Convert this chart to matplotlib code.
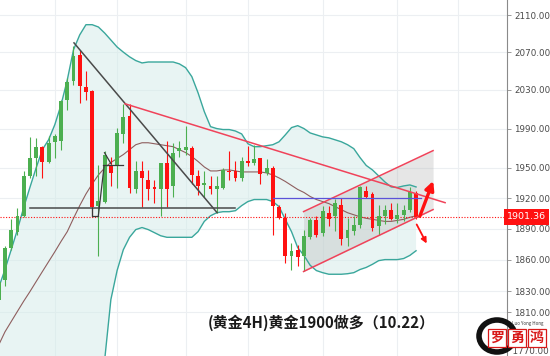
import numpy as np
import matplotlib
matplotlib.use("Agg")
import matplotlib.pyplot as plt
from matplotlib.patches import Ellipse
from matplotlib.ticker import FixedLocator, FuncFormatter, NullLocator

plt.rcParams["font.family"] = ["Noto Sans CJK SC", "DejaVu Sans"]

# 4H candles, index -1 .. 66
opens = [1822, 1841, 1871.5, 1887, 1902, 1941.5, 1960.5, 1971, 1956, 1976.5,
         1977, 2020, 2039, 2067, 2033.5, 2028.5, 1912, 1916.5, 1953, 1951.5,
         1984.5, 2003, 1929, 1947, 1938, 1930.5, 1929, 1954.5, 1931.5, 1967,
         1968, 1970, 1942, 1932.5, 1931.5, 1928.5, 1930, 1946.5, 1946.5, 1940,
         1957.5, 1954.5, 1960, 1945, 1950, 1911, 1900.5, 1863, 1869.5, 1863,
         1882, 1898, 1886, 1905.5, 1902.5, 1913.5, 1881, 1887.5, 1893.5, 1926.5,
         1923.5, 1892.5, 1902, 1908.5, 1899, 1903.5, 1908, 1925]
highs = [1843, 1873.5, 1899, 1910.5, 1946.5, 1981, 1980.5, 1972.5, 1982, 1984.5,
         2020, 2042.5, 2076.5, 2072.5, 2049.5, 2030, 1953, 1967, 1961.5, 1990.5,
         2015.5, 2015.5, 1956.5, 1956.5, 1948, 1938, 1954.5, 1977, 1975.5, 1977,
         1993, 1972, 1948, 1946.5, 1941.5, 1941.5, 1950, 1967, 1956.5, 1961,
         1972, 1973.5, 1960.5, 1959, 1951.5, 1913.5, 1905.5, 1876, 1874, 1889,
         1900.5, 1902, 1912, 1912, 1919, 1920, 1900.5, 1902, 1931.5, 1931.5,
         1925.5, 1913.5, 1913.5, 1915, 1915.5, 1913.5, 1931, 1926.5]
lows = [1817, 1834.5, 1869.5, 1884, 1901, 1940, 1941.5, 1940, 1955, 1960,
        1968.5, 2009.5, 2035.5, 2016.5, 2020, 1901, 1863, 1915.5, 1931.5, 1930,
        1975.5, 1925, 1925, 1911, 1918.5, 1915.5, 1902.5, 1911, 1921.5, 1961.5,
        1963.5, 1933.5, 1922.5, 1921.5, 1923.5, 1905.5, 1928.5, 1938, 1936.5, 1936.5,
        1951.5, 1953, 1933.5, 1943, 1884, 1899, 1857, 1850.5, 1853.5, 1849,
        1879.5, 1882, 1882.5, 1892.5, 1887.5, 1874.5, 1873, 1884, 1891, 1920,
        1887.5, 1884, 1894, 1898, 1895.5, 1897, 1906.5, 1899.5]
closes = [1839, 1871.5, 1889, 1902, 1941.5, 1960.5, 1971, 1956, 1975.5, 1982,
          2018.5, 2038, 2065.5, 2034.5, 2027.5, 1911, 1917.5, 1963.5, 1945, 1985.5,
          2002, 1929.5, 1946.5, 1940, 1929, 1928.5, 1954.5, 1929, 1965, 1970,
          1971, 1943, 1931.5, 1934.5, 1928.5, 1931.5, 1947.5, 1945.5, 1940, 1956.5,
          1954.5, 1959, 1944, 1950, 1912.5, 1900.5, 1863, 1868, 1862.5, 1882.5,
          1898, 1884, 1907, 1899, 1915, 1879.5, 1889, 1893.5, 1931, 1921.5,
          1890.5, 1902, 1908.5, 1899, 1903.5, 1908, 1925.5, 1901.36]

# Bollinger bands
bb_upper = [1833.5, 1850.5, 1869.5, 1889, 1910.5, 1930.5, 1950, 1968.5, 1978.5, 1994,
            2014.5, 2040.5, 2072.5, 2088.5, 2099.5, 2099.5, 2097, 2090.5, 2083, 2075.5,
            2070, 2065, 2061, 2058.5, 2059.5, 2059.5, 2059.5, 2059.5, 2059.5, 2057.5,
            2053.5, 2044, 2027, 2007.5, 1992, 1990, 1989, 1989, 1987.5, 1984.5,
            1974.5, 1971.5, 1971.5, 1972.5, 1973.5, 1976.5, 1983.5, 1991, 1993, 1990,
            1985.5, 1983.5, 1981.5, 1980.5, 1978.5, 1976.5, 1973.5, 1969.5, 1960.5, 1952.5,
            1948, 1942, 1936, 1931, 1930.5, 1932, 1933, 1931]
bb_mid = [1780, 1792, 1801.5, 1811, 1820.5, 1829.5, 1839, 1848.5, 1858, 1867.5,
          1877.5, 1887, 1900, 1912.5, 1924, 1934, 1943, 1950, 1955.5, 1959.5,
          1963.5, 1968.5, 1973.5, 1975.5, 1975.5, 1974.5, 1973.5, 1972.5, 1971.5, 1968.5,
          1965.5, 1961.5, 1956.5, 1951, 1947, 1947, 1948, 1948, 1947, 1946,
          1946, 1946, 1946, 1945, 1943, 1940, 1936.5, 1932.5, 1928.5, 1925.5,
          1921.5, 1918.5, 1916.5, 1914.5, 1911.5, 1908.5, 1905.5, 1903.5, 1901.5, 1900,
          1899, 1898, 1897, 1897, 1898, 1899, 1901, 1902.5]
bb_lower = [1730, 1725, 1720, 1712, 1704, 1697, 1690, 1684, 1680, 1676,
            1672, 1670, 1668, 1668, 1680, 1705, 1735, 1766, 1822, 1849.5,
            1869.5, 1881.5, 1889, 1891, 1889, 1886, 1883, 1881.5, 1881.5, 1881.5,
            1881.5, 1881.5, 1887, 1897, 1902.5, 1905.5, 1906.5, 1906.5, 1907.5, 1912.5,
            1916.5, 1918.5, 1918.5, 1918.5, 1916.5, 1911.5, 1899, 1887, 1871.5, 1864,
            1854.5, 1849.5, 1847.5, 1846, 1846, 1846, 1846.5, 1847.5, 1850.5, 1852.5,
            1855.5, 1859, 1860, 1860, 1860, 1861, 1864, 1868.5]

last_price = 1901.36
price_ticks = [1810, 1830, 1860, 1890, 1920, 1950, 1990, 2030, 2070, 2110]
bottom_tick = 1770
title_text = "(黄金4H)黄金1900做多（10.22）"
logo_chars = ["罗", "勇", "鸿"]

GREEN = "#4caf50"
RED = "#ff1111"
TEAL = "#3aa79c"
LINE_RED = "#f0435a"


def main():
    idx = np.arange(len(opens)) - 1
    o = np.array(opens)
    h = np.array(highs)
    l = np.array(lows)
    c = np.array(closes)
    up = c >= o
    colors = np.where(up, GREEN, RED)

    fig = plt.figure(figsize=(5.5, 3.56), dpi=100)
    ax = fig.add_axes([0, 0, 507 / 550, 1])

    ax.set_yscale("log")
    ax.set_xlim(-0.8, 80.6)
    ax.set_ylim(1769.8, 2126.4)

    # grid
    for gx in [8, 18, 29, 39, 51, 63, 72.8]:
        ax.axvline(gx, color="#eceff2", lw=0.8, zorder=0)
    for t in price_ticks:
        ax.axhline(t, color="#eceff2", lw=0.8, zorder=0)

    # Bollinger bands
    ax.fill_between(idx, bb_lower, bb_upper, color="#d6ecea", alpha=0.55, lw=0, zorder=1)
    ax.plot(idx, bb_upper, color=TEAL, lw=1.0, zorder=2)
    ax.plot(idx, bb_lower, color=TEAL, lw=1.0, zorder=2)
    ax.plot(idx, bb_mid, color="#8e5e5e", lw=0.8, zorder=2)

    # parallel channel
    cx = np.array([47.94, 68.73])
    ch_low = [1848.6, 1908.6]
    ch_up = [1906.6, 1967.5]
    ax.fill_between(cx, ch_low, ch_up, color="#b8b8b8", alpha=0.35, lw=0, zorder=1.5)
    ax.plot(cx, ch_low, color=LINE_RED, lw=1.1, zorder=4)
    ax.plot(cx, ch_up, color=LINE_RED, lw=1.1, zorder=4)

    # candles
    ax.vlines(idx, l, h, colors=colors, lw=0.8, zorder=3)
    ax.bar(idx, np.abs(c - o), bottom=np.minimum(o, c), width=0.62,
           color=colors, lw=0, zorder=3)

    # trend lines
    ax.plot([11.08, 34.05], [2079.9, 1905.6], color="#4a4a4a", lw=1.1, zorder=4)
    ax.plot([4.0, 36.9], [1910.5, 1910.5], color="#4a4a4a", lw=1.1, zorder=4)
    ax.plot([14.02, 14.02, 14.98], [1910.2, 1902, 1902], color="#3a3a3a", lw=0.9, zorder=4)
    ax.plot([14.98, 15.9], [1902, 1951.2], color="#3a3a3a", lw=0.9, zorder=4)
    ax.plot([15.74, 18.95], [1953.2, 1953.2], color="#3a3a3a", lw=0.9, zorder=4)
    ax.plot([15.98, 17.02], [1965.4, 1954.3], color="#3a3a3a", lw=0.9, zorder=4)
    ax.plot([19.27, 70.66], [2015.6, 1915.4], color=LINE_RED, lw=1.1, zorder=4)
    ax.plot([43.0, 66.8], [1920, 1920], color="#5b52d8", lw=0.9, zorder=4)

    # current price line
    ax.axhline(last_price, color=RED, lw=0.8, ls=(0, (1, 1.5)), zorder=2)

    # arrows
    ax.annotate("", xy=(68.75, 1937), xytext=(66.6, 1902),
                arrowprops=dict(arrowstyle="-|>", color=RED, lw=2.4,
                                mutation_scale=13, shrinkA=0, shrinkB=0), zorder=6)
    ax.annotate("", xy=(67.7, 1875.5), xytext=(66.1, 1894),
                arrowprops=dict(arrowstyle="-|>", color=RED, lw=1.3,
                                mutation_scale=8, shrinkA=0, shrinkB=0), zorder=6)

    # right price axis
    for s in ["top", "left", "bottom"]:
        ax.spines[s].set_visible(False)
    ax.spines["right"].set_color("#8a8a8a")
    ax.spines["right"].set_linewidth(0.8)
    ax.set_xticks([])
    ax.yaxis.tick_right()
    ax.yaxis.set_major_locator(FixedLocator(price_ticks))
    ax.yaxis.set_minor_locator(NullLocator())
    ax.yaxis.set_major_formatter(FuncFormatter(lambda v, p: f"{v:.2f}"))
    ax.tick_params(axis="y", which="major", length=3, width=0.6, color="#8a8a8a",
                   labelsize=6.3, labelcolor="#4a4a4a", pad=2)
    for lbl in ax.get_yticklabels():
        lbl.set_family(["DejaVu Sans"])
    # lowest label sits at the bottom edge, half under the logo
    ax.text(1.0, bottom_tick, f"  {bottom_tick:.2f}", transform=ax.get_yaxis_transform(),
            ha="left", va="bottom", fontsize=6.3, color="#4a4a4a",
            family=["DejaVu Sans"], clip_on=False, zorder=5)

    ax.text(1.0, last_price, f"{last_price:.2f}", transform=ax.get_yaxis_transform(),
            ha="left", va="center", fontsize=6.8, color="white",
            bbox=dict(boxstyle="square,pad=0.35", fc="#ff1111", ec="none"),
            family=["DejaVu Sans"], zorder=10, clip_on=False)

    # caption
    fig.text(321.7 / 550, 1 - 323 / 356, title_text, ha="center", va="center",
             fontsize=10.8, fontweight="bold", color="#1a1a1a")

    # logo
    fig.patches.append(Ellipse((497 / 550, 1 - 336 / 356), 36 / 550, 32 / 356,
                               transform=fig.transFigure, fill=False,
                               ec="#111111", lw=4, zorder=8))
    for k, ch in enumerate(logo_chars):
        fig.text((497 + 20 * k) / 550, 1 - 338 / 356, ch, ha="center", va="center",
                 fontsize=10, fontweight="bold", color="#d81818", zorder=9,
                 bbox=dict(boxstyle="square,pad=0.12", fc="white", ec="#d81818", lw=0.9))
    fig.text(528 / 550, 1 - 324 / 356, "Luo Yong Hong", ha="center", va="center",
             fontsize=3.2, style="italic", color="#333333", zorder=9)

    fig.savefig("out.png", dpi=100)
    plt.close(fig)


if __name__ == "__main__":
    main()
